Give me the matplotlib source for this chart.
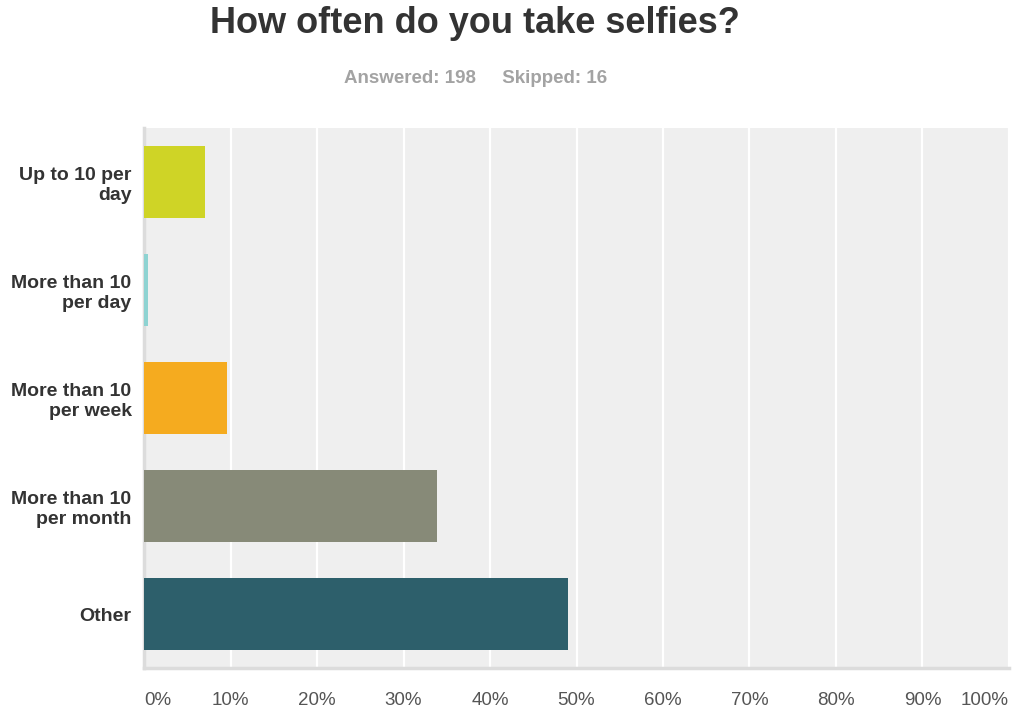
import matplotlib.pyplot as plt
import numpy as np

plt.rcParams['font.family'] = ['Liberation Sans', 'DejaVu Sans']

# respuestas de la encuesta (porcentaje sobre 198 contestadas)
categorias = ["Up to 10 per\nday", "More than 10\nper day", "More than 10\nper week",
              "More than 10\nper month", "Other"]
porcentajes = [7.07, 0.51, 9.60, 33.84, 48.99]
colores = ["#cfd426", "#8ed3d2", "#f5ab1f", "#878a78", "#2d5f6b"]
ticks_x = list(range(0, 101, 10))

fig = plt.figure(figsize=(10.2, 7.15), dpi=100)
ax = fig.add_axes([0.1412, 0.0657, 0.8480, 0.7553])
ax.set_facecolor("#efefef")

y = np.arange(len(categorias))
ax.barh(y, porcentajes, height=0.667, color=colores, zorder=3)

ax.set_xlim(0, 100)
ax.set_ylim(len(categorias) - 0.5, -0.5)

# rejilla vertical blanca
ax.set_xticks(ticks_x)
ax.grid(axis="x", color="white", linewidth=1.6, zorder=1)
ax.set_xticklabels(["{}%".format(t) for t in ticks_x], fontsize=13.5, color="#555555")
etiquetas = ax.get_xticklabels()
etiquetas[0].set_ha("left")
etiquetas[-1].set_ha("right")
ax.tick_params(axis="x", length=0, pad=17)

ax.set_yticks(y)
ax.set_yticklabels(categorias, fontsize=14, fontweight="bold", color="#333333",
                   ha="right", linespacing=1.25)
ax.tick_params(axis="y", length=0, pad=9)

for lado in ["top", "right"]:
    ax.spines[lado].set_visible(False)
ax.spines["left"].set_color("#dcdcdc")
ax.spines["left"].set_linewidth(2.5)
ax.spines["bottom"].set_color("#dcdcdc")
ax.spines["bottom"].set_linewidth(2.5)

fig.text(0.466, 0.967, "How often do you take selfies?", ha="center", va="center",
         fontsize=26, fontweight="bold", color="#333333")
fig.text(0.466, 0.890, "Answered: 198     Skipped: 16", ha="center", va="center",
         fontsize=13.5, fontweight="bold", color="#a3a3a3")

fig.savefig("out.png", dpi=100)
